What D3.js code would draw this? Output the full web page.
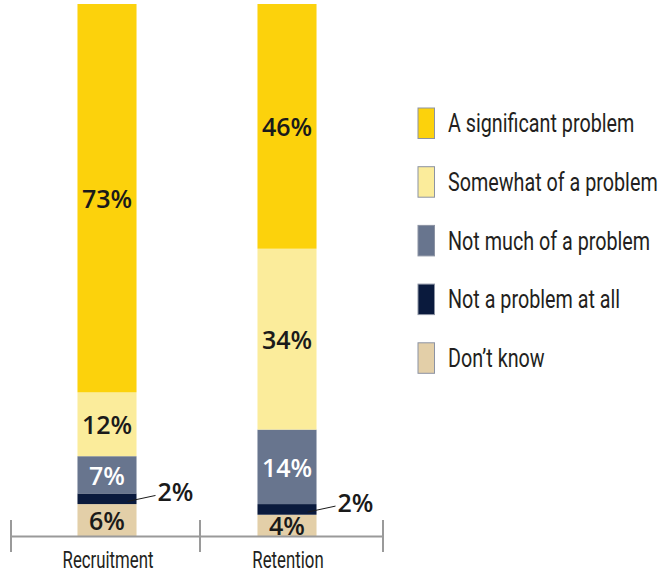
<!DOCTYPE html>
<html>
<head>
<meta charset="utf-8">
<script src="https://cdn.jsdelivr.net/npm/d3@7"></script>
<style>
  html, body { margin: 0; padding: 0; background: #fff; }
  svg { display: block; }
</style>
</head>
<body>
<svg id="chart" width="663" height="581"></svg>
<script>
// Survey responses: how much of a problem is recruitment / retention
const categories = ["Recruitment", "Retention"];
const responses = ["A significant problem", "Somewhat of a problem", "Not much of a problem", "Not a problem at all", "Don\u2019t know"];
const recruitment = [73, 12, 7, 2, 6];
const retention = [46, 34, 14, 2, 4];
const colors = ["#FCD20C", "#FBEC9B", "#68758E", "#0A1A3D", "#E3CFA8"];
const labelColors = ["#1A1A1A", "#1A1A1A", "#FFFFFF", "#FFFFFF", "#1A1A1A"];

const seriesByCategory = [recruitment, retention];

const svg = d3.select("#chart");
const condensed = "Roboto, 'Liberation Sans', sans-serif";
const labelFont = "'Open Sans', 'Noto Sans', sans-serif";

const y = d3.scaleLinear().domain([0, 100]).range([536, 4]);
const x = d3.scaleBand()
  .domain(categories)
  .range([17, 377])
  .paddingInner(0.672)
  .paddingOuter(0.336);
// axis zone boundaries (one zone per category)
const zone = d3.scaleLinear().domain([0, categories.length]).range([11, 383]);

// stacked segments, from the bottom up: Don't know at the base
const rows = categories.map((c, i) => {
  const r = { category: c };
  responses.forEach((k, j) => r[k] = seriesByCategory[i][j]);
  return r;
});
const stackOrder = responses.slice().reverse();
const stacked = d3.stack().keys(stackOrder)(rows);

const g = svg.append("g");
stacked.forEach(layer => {
  const idx = responses.indexOf(layer.key);
  g.selectAll(null)
    .data(layer)
    .enter()
    .append("rect")
    .attr("x", d => x(d.data.category))
    .attr("width", x.bandwidth())
    .attr("y", d => y(d[1]))
    .attr("height", d => y(d[0]) - y(d[1]))
    .attr("fill", colors[idx]);
});

// value labels
stacked.forEach(layer => {
  const idx = responses.indexOf(layer.key);
  layer.forEach(d => {
    const v = d[1] - d[0];
    const cx = x(d.data.category) + x.bandwidth() / 2;
    const mid = (y(d[0]) + y(d[1])) / 2;
    if (v >= 3) {
      g.append("text")
        .attr("x", cx)
        .attr("y", mid + 1)
        .attr("dy", "0.36em")
        .attr("text-anchor", "middle")
        .attr("font-family", labelFont)
        .attr("font-weight", 600)
        .attr("font-size", 25)
        .attr("fill", labelColors[idx])
        .text(v + "%");
    } else {
      const right = x(d.data.category) + x.bandwidth();
      g.append("line")
        .attr("x1", right - 9).attr("y1", mid + 2.7)
        .attr("x2", right + 19).attr("y2", mid - 3.3)
        .attr("stroke", "#1A1A1A")
        .attr("stroke-width", 1);
      g.append("text")
        .attr("x", right + 21)
        .attr("y", mid - 6.5)
        .attr("dy", "0.36em")
        .attr("font-family", labelFont)
        .attr("font-weight", 600)
        .attr("font-size", 25)
        .attr("fill", "#1A1A1A")
        .text(v + "%");
    }
  });
});

// category axis
const axisY = 536.5;
const axis = svg.append("g").attr("stroke", "#9A9A9A").attr("stroke-width", 2);
axis.append("line")
  .attr("x1", zone(0)).attr("x2", zone(categories.length))
  .attr("y1", axisY).attr("y2", axisY);
d3.range(categories.length + 1).forEach(i => {
  const tx = i === 1 ? (x(categories[0]) + x.bandwidth() + x(categories[1])) / 2 + 3 : zone(i);
  axis.append("line")
    .attr("x1", tx).attr("x2", tx)
    .attr("y1", 520).attr("y2", 552);
});

categories.forEach(c => {
  const cx = x(c) + x.bandwidth() / 2;
  svg.append("text")
    .attr("transform", `translate(${cx + 1},567.5) scale(0.73,1)`)
    .attr("text-anchor", "middle")
    .attr("font-family", condensed)
    .attr("font-size", 23)
    .attr("fill", "#231F20")
    .text(c);
});

// legend
const legend = svg.append("g");
responses.forEach((r, i) => {
  const top = 108 + i * 58.7;
  legend.append("rect")
    .attr("x", 418).attr("y", top)
    .attr("width", 16.5).attr("height", 30.5)
    .attr("fill", colors[i])
    .attr("stroke", "#8C93A3")
    .attr("stroke-width", 1);
  legend.append("text")
    .attr("transform", `translate(448,${top + 15.5}) scale(0.79,1)`)
    .attr("dy", "0.35em")
    .attr("font-family", condensed)
    .attr("font-size", 25)
    .attr("fill", "#231F20")
    .text(r);
});
</script>
</body>
</html>
